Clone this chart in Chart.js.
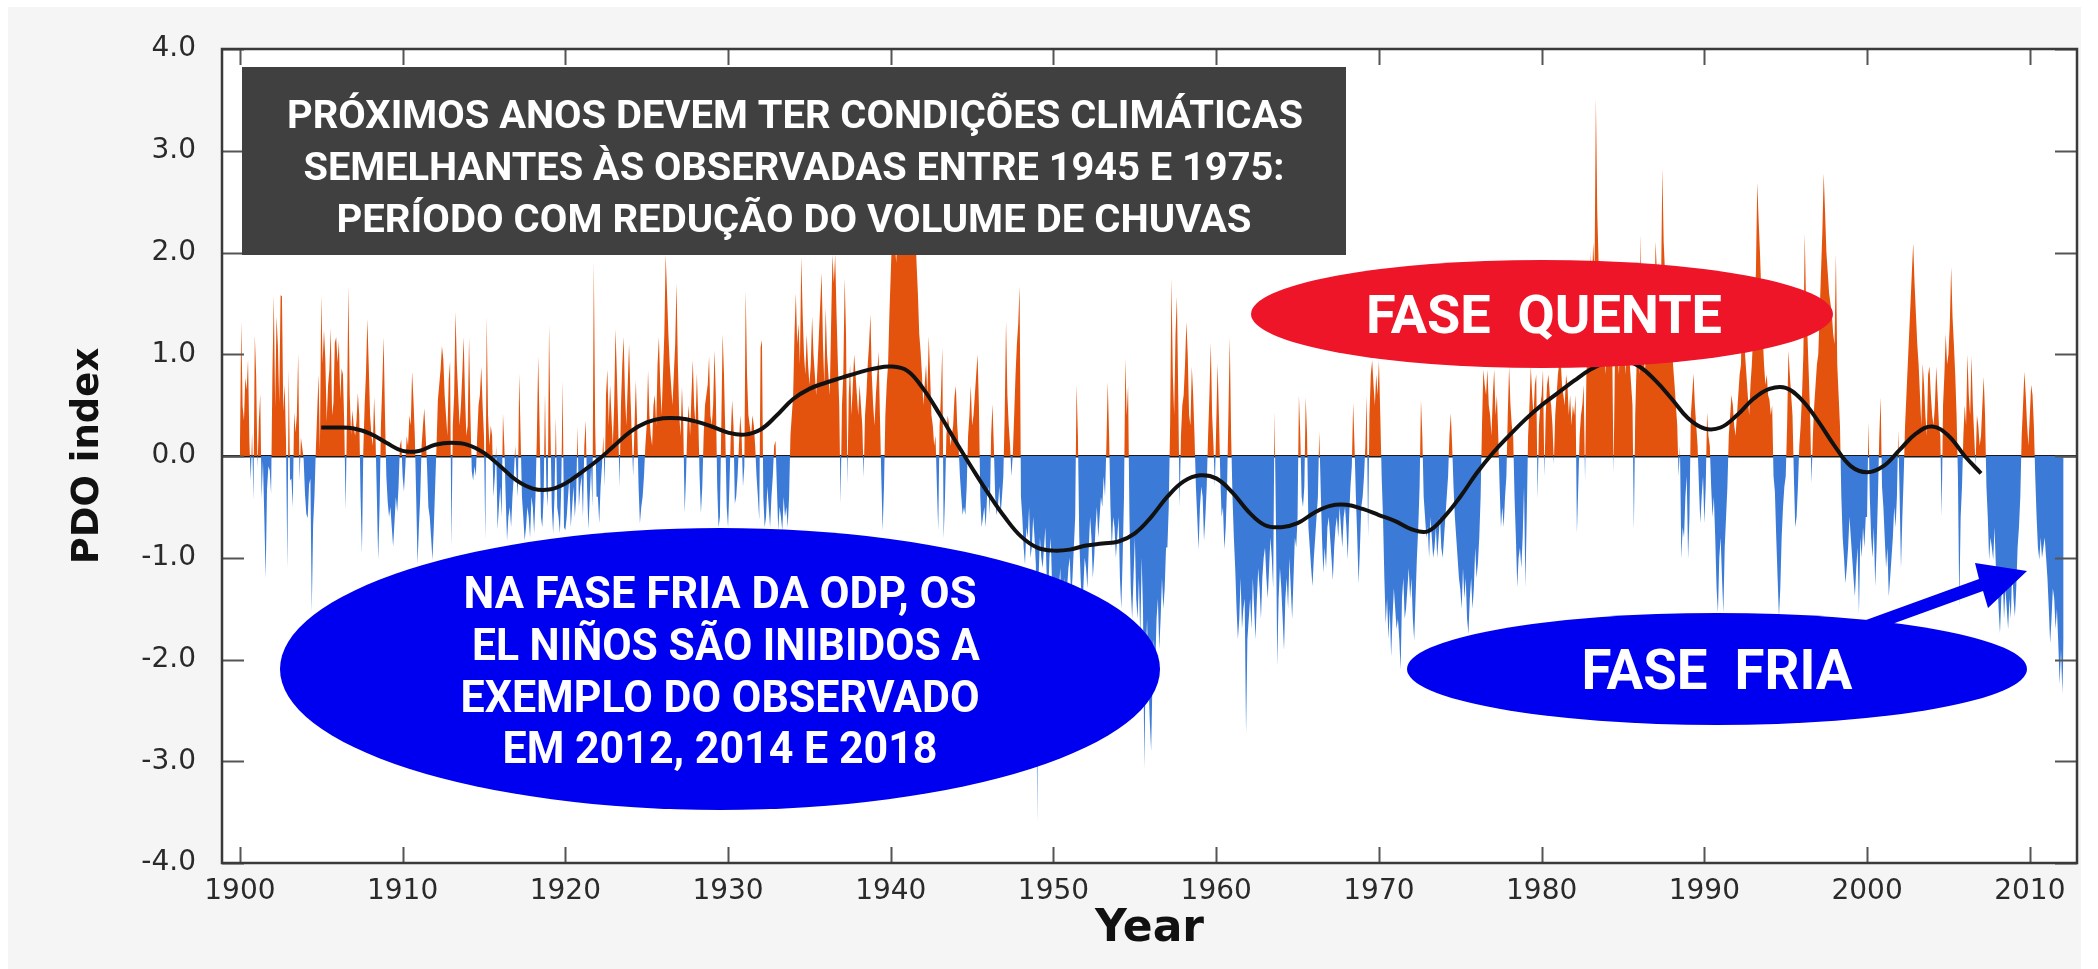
<!DOCTYPE html>
<html>
<head>
<meta charset="utf-8">
<script src="https://cdn.jsdelivr.net/npm/chart.js@4.4.1/dist/chart.umd.min.js"></script>
<style>
  html, body { margin: 0; padding: 0; background: #fff; }
  #wrap { width: 2098px; height: 969px; position: relative; }
</style>
</head>
<body>
<div id="wrap"><canvas id="pdoChart"></canvas></div>
<script>
const startYear = 1900;

// monthly PDO index, Jan 1900 .. Feb 2012
const pdoMonthly = [
  0.04, 1.32, 0.49, 0.35, 0.77, 0.65, 0.95, 0.14, -0.24, 0.23, -0.44, 1.19,
  0.79, -0.12, 0.35, 0.61, -0.42, -0.05, -0.60, -1.20, -0.33, -0.10, -0.14, -0.37,
  0.82, 1.58, 0.48, 1.37, 1.09, 0.52, 1.58, 1.57, 0.44, 0.70, 0.16, -1.10,
  0.86, -0.24, -0.22, -0.50, 0.43, 0.23, 0.40, 1.01, -0.24, 0.18, 0.08, -0.03,
  -0.37, -0.57, -0.61, -0.28, -0.22, -1.53, -0.68, -0.39, 0.06, 0.43, 0.80, 0.06,
  1.58, 0.91, 1.24, 0.95, 0.34, 0.69, 0.85, 1.26, 0.40, 0.52, 1.11, 1.17,
  0.92, 1.13, 0.56, 0.86, 0.80, 0.30, -0.53, 0.45, 1.67, 0.60, 0.21, 0.45,
  0.28, 0.20, 0.35, 0.62, 0.40, -0.40, -0.96, 0.05, 0.50, 0.82, 1.35, 0.90,
  0.40, 0.20, 0.10, 0.58, 0.20, -0.40, -1.02, -0.50, 0.30, 0.70, 1.17, 0.40,
  -0.20, -0.45, -0.60, -0.50, -0.70, -0.89, -0.65, -0.40, -0.55, -0.30, 0.10, 0.16,
  -0.20, -0.35, -0.10, 0.20, 0.10, 0.40, 0.30, 0.83, 0.55, 0.20, -0.40, -1.06,
  -0.70, -0.40, 0.10, 0.30, 0.47, 0.20, -0.10, -0.50, -0.60, -0.80, -1.02, -0.70,
  -0.30, 0.10, 0.55, 0.70, 0.85, 1.08, 0.95, 0.60, 0.40, 0.20, 0.75, 0.93,
  -0.89, 0.30, 0.60, 1.42, 0.90, 0.60, 0.30, 0.50, 0.80, 1.17, 0.60, 0.20,
  0.30, 1.17, 0.40, -0.15, -0.24, -0.10, -0.20, 0.20, 0.50, 0.60, 0.88, 0.50,
  0.20, -0.82, 1.37, 0.40, 0.10, 0.30, 0.20, -0.40, -0.20, 0.10, -0.72, -0.50,
  -0.30, -0.60, 0.42, 0.10, -0.40, -0.83, -0.60, -0.50, -0.70, -0.40, -0.20, 0.10,
  -0.20, -0.40, 0.81, 0.20, -0.40, -0.60, -0.83, -0.70, -0.50, -0.60, -0.80, -0.40,
  -0.50, -0.76, -0.40, 0.20, 0.98, 0.30, -0.60, -0.70, -0.40, 0.62, -0.30, -0.50,
  1.29, 0.30, -0.50, -0.76, -0.40, 0.38, -0.50, -0.60, -0.76, -0.30, 0.74, -0.70,
  -0.73, -0.60, -0.40, -0.20, -0.70, -0.50, -0.30, -0.60, -0.40, 0.29, -0.50, -0.30,
  -0.20, -0.60, 0.10, 0.35, -0.30, -0.72, -0.40, -0.10, -0.50, 1.91, 0.30, -0.40,
  -0.40, -0.66, -0.30, -0.10, 0.20, -0.30, 0.60, 0.85, 0.30, 0.70, 0.40, 0.10,
  0.50, 1.25, 0.80, 0.30, -0.30, 0.50, 0.90, 1.17, 0.60, 0.30, 0.70, 1.10,
  0.60, 0.20, -0.20, 0.30, 0.74, 0.30, -0.30, -0.66, -0.50, -0.40, -0.20, 0.10,
  0.30, 0.84, 0.40, 0.20, 0.10, 0.50, 0.60, 0.30, 0.90, 1.17, 0.70, 0.40,
  0.80, 1.20, 1.98, 1.60, 1.20, 0.90, 0.70, 0.50, 0.80, 1.10, 1.70, 0.90,
  0.40, 0.20, 0.68, 0.30, -0.56, -0.20, 0.30, 0.50, 0.20, 0.60, 0.94, 0.50,
  0.30, 0.81, 0.40, -0.20, -0.56, -0.30, 0.20, 0.50, 0.60, 0.70, 0.98, 0.40,
  0.30, 0.50, 1.04, 0.60, -0.30, -0.70, -0.60, 0.30, 1.20, 0.80, 0.20, -0.50,
  -0.70, -0.30, 0.20, 0.55, 0.30, -0.47, -0.40, -0.20, 0.10, 0.40, 0.20, -0.30,
  -0.10, 1.63, 0.80, 0.40, 0.30, 0.20, 0.40, 0.30, 0.10, -0.20, -0.40, -0.63,
  1.07, 1.14, -0.40, -0.70, -0.60, -0.30, -0.50, -0.70, -0.40, -0.20, 0.10, 0.15,
  -0.30, -0.73, -0.50, -0.60, -0.73, -0.40, -0.60, -0.50, -0.70, -0.40, 0.20, 0.40,
  0.60, 1.20, 1.60, 1.10, 1.30, 0.90, 1.96, 1.40, 1.00, 0.80, 1.20, 0.90,
  0.70, 0.90, 1.37, 1.00, 0.80, 0.60, 0.90, 1.20, 1.50, 1.80, 1.10, 0.70,
  1.46, 1.00, 0.80, 0.60, 1.30, 1.98, 1.70, 1.98, 1.40, 0.90, 0.50, -0.47,
  0.50, 0.80, 1.75, 1.20, -0.28, 0.60, 0.90, 0.40, 0.70, 1.00, 0.80, 0.60,
  0.40, 0.70, 0.50, 0.30, -0.21, 0.40, 0.60, 0.90, 1.10, 1.39, 0.80, 0.50,
  0.30, 0.60, 0.80, 1.03, 0.40, -0.20, -0.73, -0.30, 0.40, 0.70, 0.90, 1.40,
  1.80, 2.20, 2.40, 2.10, 1.90, 2.20, 2.50, 2.30, 2.00, 2.10, 2.40, 2.60,
  2.80, 2.50, 2.70, 2.30, 2.60, 2.10, 2.30, 1.90, 1.60, 1.20, 1.03, 0.80,
  0.50, 0.70, 0.90, 0.60, 1.18, 0.80, 0.40, 0.30, 0.10, 0.20, -0.30, -0.73,
  0.30, 0.60, 1.07, -0.81, -0.40, 0.20, 0.40, 0.30, 0.10, 0.20, 0.30, 0.58,
  0.69, 0.30, 0.10, -0.20, -0.40, -0.58, -0.50, -0.58, -0.30, 0.20, 0.40, 0.69,
  0.30, 0.40, 0.60, 0.80, 1.00, 0.50, -0.40, -0.70, -0.60, -0.50, -0.70, -0.40,
  -0.30, -0.58, 0.20, 0.51, 0.10, -0.40, -0.58, -0.50, -0.30, -0.58, -0.40, -0.20,
  0.40, 1.33, 0.60, 0.30, 0.10, -0.20, 0.02, 0.40, 0.80, 1.10, 1.30, 1.67,
  -0.40, -0.60, -0.90, -1.07, -0.70, -0.80, -0.50, -1.00, -0.90, -0.60, -0.80, -1.07,
  -3.60, -1.20, -0.80, -1.00, -1.10, -0.90, -0.70, -1.20, -1.40, -1.00, -0.80, -1.30,
  -1.40, -1.60, -1.50, -1.20, -1.30, -1.10, -1.60, -1.40, -1.20, -1.50, -1.30, -1.10,
  -1.00, -1.40, -1.20, -0.90, -0.60, 0.70, 0.20, -0.80, -1.20, -1.50, -1.30, -1.00,
  -1.10, -1.30, -0.90, -0.60, -0.80, -1.20, -1.00, -0.70, -0.50, -0.80, -0.60, -0.40,
  -0.50, -0.20, -0.40, 0.10, 0.73, 0.20, -0.50, -0.90, -0.60, -0.70, -1.00, -0.80,
  -0.60, -1.20, -1.50, -1.00, -0.40, 0.96, 0.40, 0.69, -0.60, -1.30, -1.60, -1.20,
  -0.80, -1.40, -1.60, -1.20, -1.80, -1.00, -1.50, -3.07, -2.00, -1.60, -2.20, -2.60,
  -2.90, -2.20, -1.80, -2.10, -1.60, -1.40, -1.90, -1.60, -1.20, -1.50, -1.30, -0.90,
  -0.90, -0.50, 0.30, 1.75, 0.80, 0.40, 1.20, 1.57, 0.60, -0.50, 0.20, 0.50,
  0.60, 0.90, 1.32, 1.00, 0.40, 0.30, 0.88, 0.60, 0.20, -0.30, -0.60, -0.92,
  -0.50, -0.30, -0.40, -0.83, -0.60, -0.30, 0.20, 0.60, 1.11, 0.40, 0.10, -0.30,
  0.30, 0.91, 0.40, -0.20, -0.60, -0.50, -0.92, -0.70, -0.30, 0.40, 1.17, 0.20,
  -0.40, -0.80, -1.10, -1.50, -1.80, -1.60, -1.20, -1.70, -1.50, -1.40, -2.73, -1.80,
  -1.60, -1.40, -1.70, -1.20, -1.50, -1.80, -1.40, -1.10, -1.30, -1.60, -1.20, -1.00,
  -0.90, -1.20, -1.40, -1.10, -0.80, -1.00, -1.30, 0.44, -0.60, -2.07, -1.40, -1.10,
  -1.30, -1.60, -1.91, -1.40, -1.20, -1.50, -1.00, -1.30, -1.60, -1.20, -0.80, -0.90,
  -0.60, 0.60, 0.20, -0.40, -0.50, -0.30, 0.58, 0.20, -0.70, -0.90, -1.10, -1.28,
  -1.00, -0.80, -0.60, -0.40, 0.24, -0.30, -0.80, -1.15, -0.90, -1.10, -0.70, -0.60,
  -0.80, -1.00, -1.22, -0.90, -0.70, -0.60, -0.80, -0.50, -0.70, -0.90, -0.60, -0.50,
  -0.70, -1.02, -0.60, -0.30, -0.10, 0.52, 0.10, -0.40, -0.80, -1.25, -0.90, -0.50,
  -0.40, -0.20, 0.10, 0.60, -0.80, 0.40, 0.80, 0.94, 0.70, 0.50, 0.80, 0.60,
  0.94, 0.40, -0.20, -0.60, -1.20, -1.65, -1.40, -1.80, -1.50, -1.97, -1.60, -1.30,
  -1.50, -1.70, -1.60, -1.80, -2.10, -1.40, -1.20, -1.60, -1.50, -1.30, -1.10, -1.40,
  -1.20, -1.60, -1.81, -1.40, -1.00, -0.70, -0.30, 0.55, 0.20, -0.40, -0.60, -0.80,
  -0.70, -1.00, -0.60, -0.80, -1.00, -0.90, -0.70, -1.00, -0.80, -0.60, -0.90, -1.00,
  -0.80, -0.60, -0.40, -0.20, 0.20, 0.42, 0.10, -0.30, -0.60, -0.80, -1.00, -1.20,
  -1.31, -1.50, -1.10, -1.40, -1.20, -1.60, -1.75, -1.40, -1.20, -1.50, -1.30, -0.90,
  -1.20, -1.05, -0.80, -0.40, 0.30, 0.85, 0.70, 0.60, 0.85, 0.50, 0.40, 0.20,
  0.60, 0.85, 0.40, 0.60, 0.20, -0.30, -0.70, -0.50, -0.70, -0.40, -0.20, 0.40,
  0.88, 0.50, 0.30, 0.20, -0.40, -0.80, -1.29, -1.00, -0.90, -1.10, -0.80, -0.30,
  -1.29, -0.60, 0.20, 0.50, 0.88, 0.60, 0.40, 0.70, 0.80, -0.42, 0.30, 0.50,
  0.60, 0.85, -0.20, 0.40, 0.70, 0.80, 0.60, 0.50, 0.30, -0.08, 0.40, 0.60,
  0.80, 0.92, 0.95, 0.70, 0.60, 0.50, 0.80, 0.70, 0.40, 0.60, 0.30, 0.50,
  0.40, 0.60, -0.76, -0.30, 0.20, 0.40, 0.50, 0.70, -0.24, 0.80, 1.06, 0.90,
  2.00, 1.60, 2.10, 1.80, 3.52, 2.40, 1.90, 1.60, 1.30, 1.00, 1.20, 0.80,
  1.00, 1.20, 1.40, 1.30, 1.10, -0.17, 0.90, 1.20, 1.00, 0.80, 1.30, 1.10,
  1.20, 1.00, 0.80, 1.40, 1.10, 0.90, 0.70, 0.50, -0.73, 0.40, 0.90, 1.00,
  0.80, 2.18, 1.20, 1.10, 0.80, 1.00, 0.90, 1.20, 1.50, 1.30, 1.40, 1.20,
  2.11, 1.80, 1.90, 1.70, 1.60, 2.83, 2.10, 1.80, 1.60, 1.40, 1.50, 1.30,
  1.10, 0.88, 0.70, 0.50, 0.30, -0.20, 0.10, -1.01, -0.70, -0.80, -0.40, -0.20,
  -1.01, -0.60, 0.40, 0.60, 0.81, 0.50, 0.30, 0.10, -0.30, -0.66, -0.40, -0.20,
  -0.66, -0.30, 0.43, 0.20, 0.10, -0.30, -0.60, -0.40, -0.80, -1.30, -1.54, -1.00,
  -0.80, -1.20, -1.54, -0.90, -0.60, -0.30, 0.20, 0.40, 0.60, 0.50, 0.30, 0.20,
  0.40, 0.60, 0.80, 0.90, 1.73, 1.40, 1.00, 0.80, 0.60, 0.40, 0.70, 0.90,
  1.20, 1.50, 1.80, 2.69, 2.32, 2.00, 1.60, 1.20, 0.90, 0.70, 0.80, 0.60,
  0.55, 0.40, 0.50, -0.20, -0.35, -0.80, -1.20, -1.58, -1.30, -0.80, -0.50, -0.30,
  -0.20, 0.30, 1.04, 0.80, 0.60, 0.40, -0.20, -0.70, -0.60, -0.30, 0.10, 0.30,
  0.60, 1.00, 2.19, 1.50, 1.20, 0.80, 0.40, -0.27, 0.20, 0.50, 0.70, 0.90,
  1.00, 1.40, 1.80, 2.20, 2.78, 2.40, 2.00, 1.80, 1.60, 1.50, 1.40, 1.20,
  1.10, 1.99, 0.90, 0.60, 0.30, -0.40, -0.80, -1.00, -1.25, -1.10, -0.90, -0.60,
  -0.80, -1.00, -1.20, -1.38, -1.10, -0.90, -1.55, -0.80, -1.00, -0.70, -0.90, -0.60,
  -0.60, 0.34, -0.40, -0.80, -1.00, -0.70, -1.28, -0.90, -0.40, 0.20, 0.58, -0.30,
  -0.50, -0.80, -1.10, -0.90, -1.38, -1.20, -1.00, -0.80, -0.50, -0.70, -0.40, 0.25,
  -0.40, -1.10, -0.60, -0.20, 0.30, 0.60, 0.90, 1.20, 1.50, 1.80, 2.09, 1.70,
  1.40, 1.10, 0.90, 0.60, 0.30, 0.91, 0.70, 0.40, 0.20, 0.80, 0.88, 0.60,
  0.40, 0.30, 0.50, 0.88, 0.60, 0.30, 0.20, -0.60, 0.50, 0.80, 1.20, 0.90,
  1.00, 1.30, 1.86, 1.37, 1.10, 0.80, 0.40, -0.20, -1.48, -0.60, -0.30, 0.20,
  0.50, 0.30, 1.00, 0.60, 0.40, 0.98, 0.50, 0.20, -0.10, 0.40, 0.30, 0.10,
  0.20, 0.50, 0.78, 0.40, -0.30, -0.60, -1.02, -0.80, -0.90, -1.02, -0.70, -1.10,
  -1.20, -1.50, -1.74, -1.40, -1.20, -1.60, -1.30, -1.50, -1.70, -1.40, -1.60, -1.10,
  -1.40, -1.58, -1.30, -0.90, -0.70, -0.40, 0.20, 0.50, 0.83, 0.60, 0.30, 0.10,
  0.40, 0.70, 0.60, 0.30, -0.20, -0.60, -0.90, -1.02, -0.80, -1.00, -0.90, -0.80,
  -1.00, -1.20, -1.50, -1.84, -1.60, -1.30, -1.40, -1.70, -1.50, -1.84, -2.24, -1.90,
  -2.33, -1.80
];

// low-pass curve
const smoothYears = [
  1905, 1906, 1907, 1908, 1909, 1910, 1911, 1912, 1913, 1914, 1915, 1916, 1917, 1918, 1919,
  1920, 1921, 1922, 1923, 1924, 1925, 1926, 1927, 1928, 1929, 1930, 1931, 1932, 1933, 1934,
  1935, 1936, 1937, 1938, 1939, 1940, 1941, 1942, 1943, 1944, 1945, 1946, 1947, 1948, 1949,
  1950, 1951, 1952, 1953, 1954, 1955, 1956, 1957, 1958, 1959, 1960, 1961, 1962, 1963, 1964,
  1965, 1966, 1967, 1968, 1969, 1970, 1971, 1972, 1973, 1974, 1975, 1976, 1977, 1978, 1979,
  1980, 1981, 1982, 1983, 1984, 1985, 1986, 1987, 1988, 1989, 1990, 1991, 1992, 1993, 1994,
  1995, 1996, 1997, 1998, 1999, 2000, 2001, 2002, 2003, 2004, 2005, 2006, 2007
];
const smoothValues = [
  0.28, 0.28, 0.27, 0.22, 0.13, 0.05, 0.05, 0.11, 0.13, 0.11, 0.03, -0.10, -0.24, -0.32, -0.33,
  -0.27, -0.16, -0.04, 0.10, 0.24, 0.33, 0.37, 0.37, 0.34, 0.29, 0.23, 0.21, 0.26, 0.40, 0.56,
  0.66, 0.72, 0.77, 0.82, 0.86, 0.88, 0.84, 0.66, 0.41, 0.14, -0.12, -0.37, -0.60, -0.79, -0.90,
  -0.93, -0.92, -0.88, -0.86, -0.84, -0.76, -0.60, -0.40, -0.25, -0.19, -0.22, -0.36, -0.55, -0.68, -0.70,
  -0.66, -0.56, -0.49, -0.48, -0.52, -0.58, -0.64, -0.72, -0.74, -0.60, -0.40, -0.17, 0.03, 0.20, 0.36,
  0.50, 0.62, 0.74, 0.85, 0.92, 0.94, 0.88, 0.74, 0.56, 0.37, 0.27, 0.28, 0.40, 0.56, 0.66,
  0.67, 0.55, 0.34, 0.10, -0.10, -0.16, -0.10, 0.06, 0.22, 0.29, 0.20, 0.00, -0.17
];

const xTickValues = [1900, 1910, 1920, 1930, 1940, 1950, 1960, 1970, 1980, 1990, 2000, 2010];
const yTickValues = [-4, -3, -2, -1, 0, 1, 2, 3, 4];

const headlineLines = [
  "PRÓXIMOS ANOS DEVEM TER CONDIÇÕES CLIMÁTICAS",
  "SEMELHANTES ÀS OBSERVADAS ENTRE 1945 E 1975:",
  "PERÍODO COM REDUÇÃO DO VOLUME DE CHUVAS"
];
const coldNoteLines = [
  "NA FASE FRIA DA ODP, OS",
  "EL NIÑOS SÃO INIBIDOS A",
  "EXEMPLO DO OBSERVADO",
  "EM 2012, 2014 E 2018"
];
const warmLabel = "FASE  QUENTE";
const coldLabel = "FASE  FRIA";

const labelFont = "'DejaVu Sans', 'Liberation Sans', sans-serif";
const noteFont = "Roboto, 'Liberation Sans', sans-serif";

function drawFitted(ctx, text, cx, baseline, width, size) {
  ctx.font = "bold " + size + "px " + noteFont;
  const w = ctx.measureText(text).width;
  ctx.save();
  ctx.translate(cx, baseline);
  ctx.scale(width / w, 1);
  ctx.textAlign = "center";
  ctx.textBaseline = "alphabetic";
  ctx.fillText(text, 0, 0);
  ctx.restore();
}

function fillEllipse(ctx, cx, cy, rx, ry, color) {
  ctx.beginPath();
  ctx.ellipse(cx, cy, rx, ry, 0, 0, Math.PI * 2);
  ctx.fillStyle = color;
  ctx.fill();
}

const pageBackground = {
  id: "pageBackground",
  beforeDraw(chart) {
    const { ctx, chartArea: a } = chart;
    ctx.save();
    ctx.fillStyle = "#ffffff";
    ctx.fillRect(0, 0, chart.width, chart.height);
    ctx.fillStyle = "#f5f5f5";
    ctx.fillRect(8, 7, 2073, 962);
    ctx.fillStyle = "#ffffff";
    ctx.fillRect(a.left, a.top, a.right - a.left, a.bottom - a.top);
    ctx.restore();
  },
};

const axesFrame = {
  id: "axesFrame",
  afterDraw(chart) {
    const { ctx, chartArea: a } = chart;
    const x = chart.scales.x;
    const y = chart.scales.y;
    ctx.save();
    ctx.strokeStyle = "#555";
    ctx.lineWidth = 2;
    ctx.beginPath();
    x.ticks.forEach((t) => {
      const px = Math.round(x.getPixelForValue(t.value)) + 0.5;
      ctx.moveTo(px, a.bottom);
      ctx.lineTo(px, a.bottom - 16);
      ctx.moveTo(px, a.top);
      ctx.lineTo(px, a.top + 16);
    });
    y.ticks.forEach((t) => {
      const py = Math.round(y.getPixelForValue(t.value)) + 0.5;
      ctx.moveTo(a.left, py);
      ctx.lineTo(a.left + 22, py);
      ctx.moveTo(a.right, py);
      ctx.lineTo(a.right - 22, py);
    });
    ctx.stroke();
    ctx.strokeStyle = "#3a3a3a";
    ctx.lineWidth = 2.5;
    ctx.strokeRect(a.left, a.top, a.right - a.left, a.bottom - a.top);
    ctx.restore();
  },
};

const annotations = {
  id: "annotations",
  afterDraw(chart) {
    const ctx = chart.ctx;
    ctx.save();

    ctx.fillStyle = "#404040";
    ctx.fillRect(242, 67, 1104, 188);
    ctx.fillStyle = "#ffffff";
    drawFitted(ctx, headlineLines[0], 795, 128, 1016, 39);
    drawFitted(ctx, headlineLines[1], 794, 180, 981, 39);
    drawFitted(ctx, headlineLines[2], 794, 232, 915, 39);

    fillEllipse(ctx, 1542, 314, 291, 54, "#ee1529");
    ctx.fillStyle = "#ffffff";
    drawFitted(ctx, warmLabel, 1544, 333, 356, 53);

    fillEllipse(ctx, 720, 669, 440, 141, "#0000f0");
    ctx.fillStyle = "#ffffff";
    drawFitted(ctx, coldNoteLines[0], 720, 608, 513, 45);
    drawFitted(ctx, coldNoteLines[1], 726, 660, 508, 45);
    drawFitted(ctx, coldNoteLines[2], 720, 712, 519, 45);
    drawFitted(ctx, coldNoteLines[3], 720, 763, 435, 45);

    fillEllipse(ctx, 1717, 669, 310, 56, "#0000f0");
    ctx.beginPath();
    ctx.moveTo(1866, 620);
    ctx.lineTo(1979, 579);
    ctx.lineTo(1975, 563);
    ctx.lineTo(2027, 571);
    ctx.lineTo(1988, 608);
    ctx.lineTo(1983, 591);
    ctx.lineTo(1870, 632);
    ctx.closePath();
    ctx.fillStyle = "#0000f0";
    ctx.fill();
    ctx.fillStyle = "#ffffff";
    drawFitted(ctx, coldLabel, 1717, 689, 271, 55);

    ctx.restore();
  },
};

const ctx = document.getElementById("pdoChart").getContext("2d");
new Chart(ctx, {
  type: "line",
  data: {
    datasets: [
      {
        label: "PDO smoothed",
        data: smoothYears.map((yr, i) => ({ x: yr, y: smoothValues[i] })),
        borderColor: "#111111",
        borderWidth: 4,
        tension: 0.4,
        pointRadius: 0,
        fill: false,
        order: 0,
      },
      {
        label: "PDO index",
        data: pdoMonthly.map((v, i) => ({ x: startYear + i / 12, y: v })),
        borderColor: "rgba(0,0,0,0)",
        borderWidth: 1,
        pointRadius: 0,
        tension: 0,
        fill: { target: "origin", above: "#e4530e", below: "#3b7bd7" },
        order: 1,
      },
    ],
  },
  options: {
    responsive: true,
    maintainAspectRatio: false,
    animation: false,
    layout: { padding: { left: 0, right: 21, top: 49, bottom: 0 } },
    scales: {
      x: {
        type: "linear",
        min: 1898.9,
        max: 2012.9,
        afterBuildTicks: (s) => {
          s.ticks = xTickValues.map((v) => ({ value: v }));
        },
        afterFit: (s) => {
          s.height = 106;
        },
        grid: { display: false, drawTicks: false },
        border: { display: false },
        ticks: {
          autoSkip: false,
          maxRotation: 0,
          padding: 12,
          color: "#2a2a2a",
          font: { family: labelFont, size: 28 },
          callback: (v) => String(v),
        },
        title: {
          display: true,
          text: "Year",
          color: "#111",
          font: { family: labelFont, size: 44, weight: "bold" },
          padding: { top: 0, bottom: 13 },
        },
      },
      y: {
        type: "linear",
        min: -4,
        max: 4,
        z: 1,
        afterBuildTicks: (s) => {
          s.ticks = yTickValues.map((v) => ({ value: v }));
        },
        afterFit: (s) => {
          s.width = 222;
        },
        grid: {
          drawTicks: false,
          color: (c) => (c.tick && c.tick.value === 0 ? "#1a1a1a" : "rgba(0,0,0,0)"),
          lineWidth: 2.5,
        },
        border: { display: false },
        ticks: {
          padding: 26,
          color: "#2a2a2a",
          font: { family: labelFont, size: 28 },
          callback: (v) => Number(v).toFixed(1),
        },
        title: {
          display: true,
          text: "PDO index",
          color: "#111",
          font: { family: labelFont, size: 37, weight: "bold" },
          padding: { top: 66, bottom: 0 },
        },
      },
    },
    plugins: {
      legend: { display: false },
      tooltip: { enabled: false },
    },
  },
  plugins: [pageBackground, axesFrame, annotations],
});
</script>
</body>
</html>
